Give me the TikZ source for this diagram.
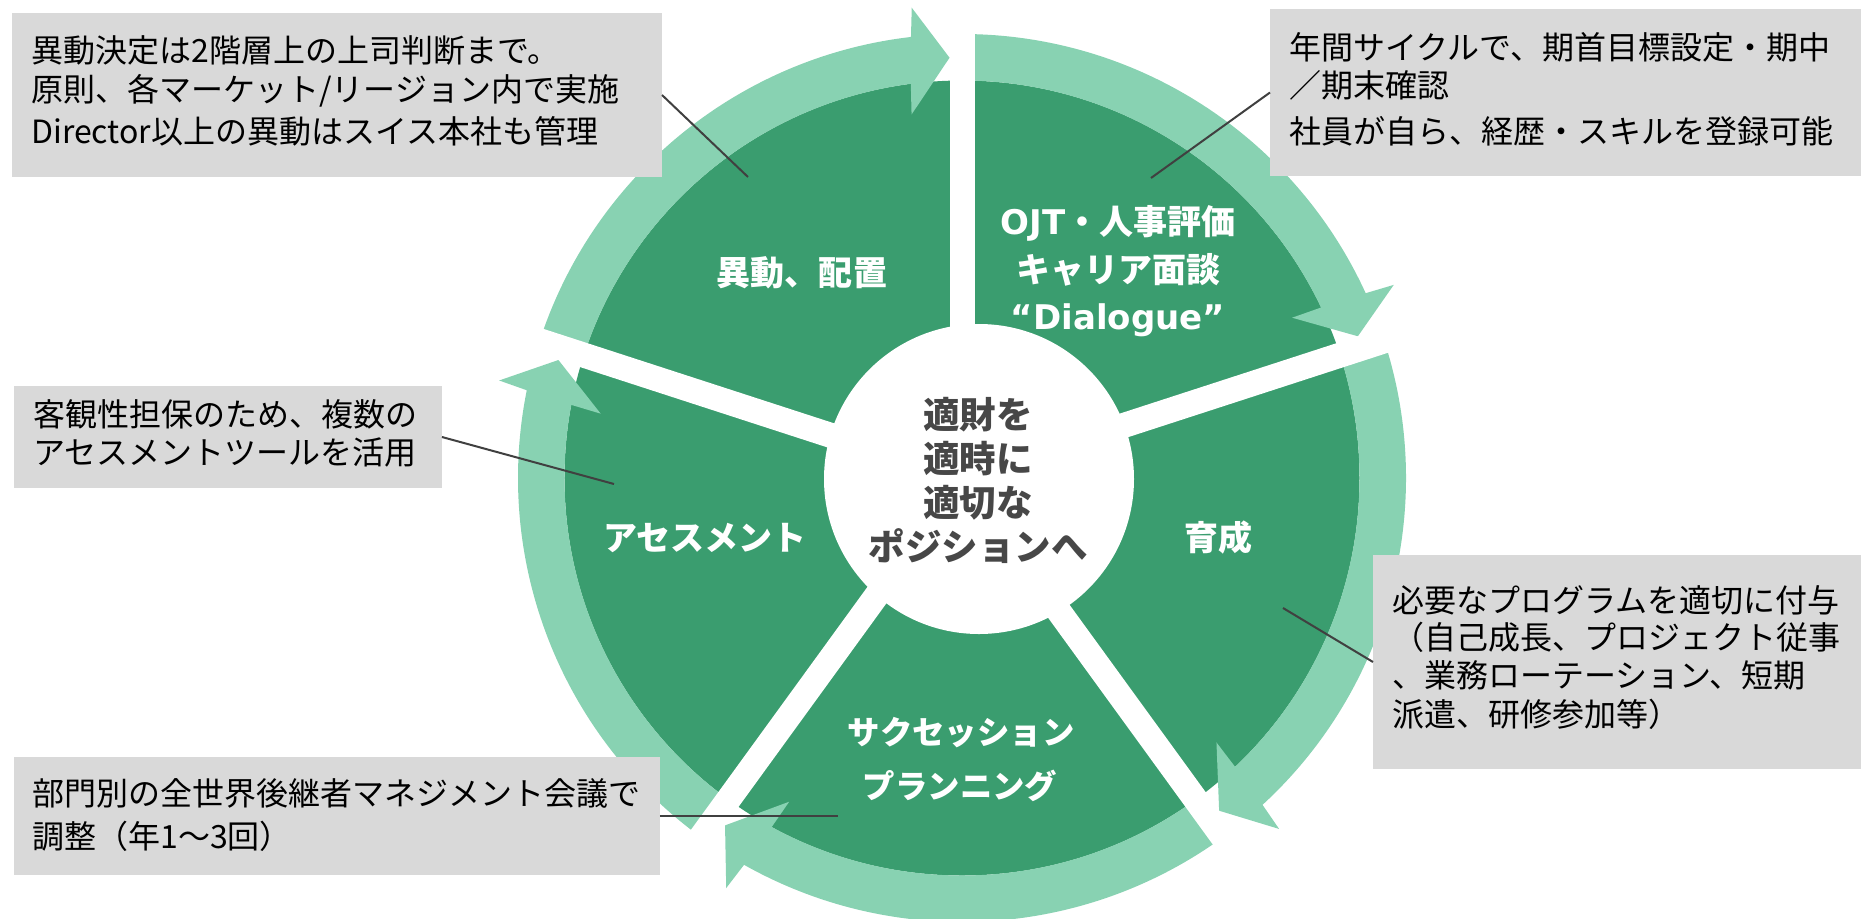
\documentclass[tikz,border=0pt]{standalone}
\usepackage{fontspec}
\setmainfont{Noto Sans CJK JP}
\newfontfamily\lat{DejaVu Sans}
\definecolor{darkg}{RGB}{58,157,111}
\definecolor{lightg}{RGB}{136,210,178}
\definecolor{boxg}{RGB}{217,217,217}
\definecolor{ctxt}{RGB}{71,71,71}
\definecolor{leadc}{RGB}{64,64,64}
\newcommand\ringarrow[2]{%
  \pgfmathsetmacro\raA{#2+4.9}%
  \pgfmathsetmacro\raB{#2+4.4}%
  \pgfmathsetmacro\raC{#2+6.2}%
  \pgfmathsetmacro\raD{#2+5.7}%
  \fill[lightg] (#1:444) arc[start angle=#1, end angle=\raA, radius=444]
    -- (\raB:473) -- (#2:420.5) -- (\raC:367) -- (\raD:397.5)
    arc[start angle=\raD, end angle=#1, radius=397.5] -- cycle;}
\begin{document}
\begin{tikzpicture}[x=0.5pt,y=0.5pt,
  boxtxt/.style={anchor=base west, inner sep=0pt, font=\fontsize{16}{19}\selectfont, text=black},
  seclbl/.style={anchor=base, inner sep=0pt, font=\bfseries\fontsize{17}{20}\selectfont, text=white},
  ctrlbl/.style={anchor=base, inner sep=0pt, font=\bfseries\fontsize{18.25}{22}\selectfont, text=ctxt},
  infobox/.style={fill=boxg, draw=none, inner sep=0pt, outer sep=0pt},
  leader/.style={draw=leadc, line width=1pt},
  gapline/.style={draw=white, line width=12.5pt, line cap=butt}]
\useasboundingbox (-962,-440) rectangle (899,478);
% ring
\fill[darkg] (0,0) circle[radius=397.5];
\ringarrow{162}{91.7}
\ringarrow{90}{19.7}
\ringarrow{18}{-52.3}
\ringarrow{-54}{-124.3}
\ringarrow{234}{163.7}
\foreach \ga in {90,18,-54,-126,162} \draw[gapline] (0,0) -- (\ga:478);
\fill[white] (17,-1) circle[radius=155];
% sector labels
\node[seclbl] (l1) at (-160,192.4) {異動、配置};
\node[seclbl] (l2a) at (156,243.4) {{\lat OJT}・人事評価};
\node[seclbl] (l2b) at (156,195.4) {キャリア面談};
\node[seclbl] (l2c) at (156,148.4) {{\lat “Dialogue”}};
\node[seclbl] (l3) at (256,-72.6) {育成};
\node[seclbl, font=\bfseries\fontsize{16.2}{20}\selectfont] (l4a) at (-1,-266) {サクセッション};
\node[seclbl, font=\bfseries\fontsize{16.2}{20}\selectfont] (l4b) at (-2,-320) {プランニング};
\node[seclbl] (l5) at (-257,-72.6) {アセスメント};
% centre
\node[ctrlbl] (c1) at (16,49.5) {適財を};
\node[ctrlbl] (c2) at (16,5.5) {適時に};
\node[ctrlbl] (c3) at (16,-38.5) {適切な};
\node[ctrlbl] (c4) at (16,-82.5) {ポジションへ};
% boxes
\node[infobox, minimum width=325pt, minimum height=82pt] (boxA) at (-625,383) {};
\node[infobox, minimum width=295.5pt, minimum height=83.5pt] (boxB) at (603.5,385.5) {};
\node[infobox, minimum width=214pt, minimum height=51pt] (boxC) at (-734,41) {};
\node[infobox, minimum width=323pt, minimum height=59pt] (boxD) at (-625,-338) {};
\node[infobox, minimum width=244pt, minimum height=107pt] (boxE) at (655,-184) {};
% box texts
\node[boxtxt] (a1) at (-931,416) {異動決定は2階層上の上司判断まで。};
\node[boxtxt] (a2) at (-931,377) {原則、各マーケット/リージョン内で実施};
\node[boxtxt] (a3) at (-931,335) {Director以上の異動はスイス本社も管理};
\node[boxtxt] (b1) at (327,419) {年間サイクルで、期首目標設定・期中};
\node[boxtxt] (b2) at (327,381) {／期末確認};
\node[boxtxt] (b3) at (327,335) {社員が自ら、経歴・スキルを登録可能};
\node[boxtxt] (cc1) at (-929,52) {客観性担保のため、複数の};
\node[boxtxt] (cc2) at (-929,14) {アセスメントツールを活用};
\node[boxtxt] (d1) at (-930,-327) {部門別の全世界後継者マネジメント会議で};
\node[boxtxt] (d2) at (-930,-370) {調整（年1～3回）};
\node[boxtxt] (e1) at (430,-134) {必要なプログラムを適切に付与};
\node[boxtxt] (e2) at (430,-171) {（自己成長、プロジェクト従事};
\node[boxtxt] (e3) at (430,-209) {、業務ローテーション、短期};
\node[boxtxt] (e4) at (430,-248) {派遣、研修参加等）};
% leaders
\coordinate (pA) at (-214,301);
\coordinate (pB) at (189,300);
\coordinate (pC) at (-348,-6);
\coordinate (pD) at (-124,-338);
\coordinate (pE) at (321,-130);
\draw[leader] (boxA.east) -- (pA);
\draw[leader] (boxB.west) -- (pB);
\draw[leader] (boxC.east) -- (pC);
\draw[leader] (boxD.east) -- (pD);
\draw[leader] (boxE.west) -- (pE);
\end{tikzpicture}
\end{document}
